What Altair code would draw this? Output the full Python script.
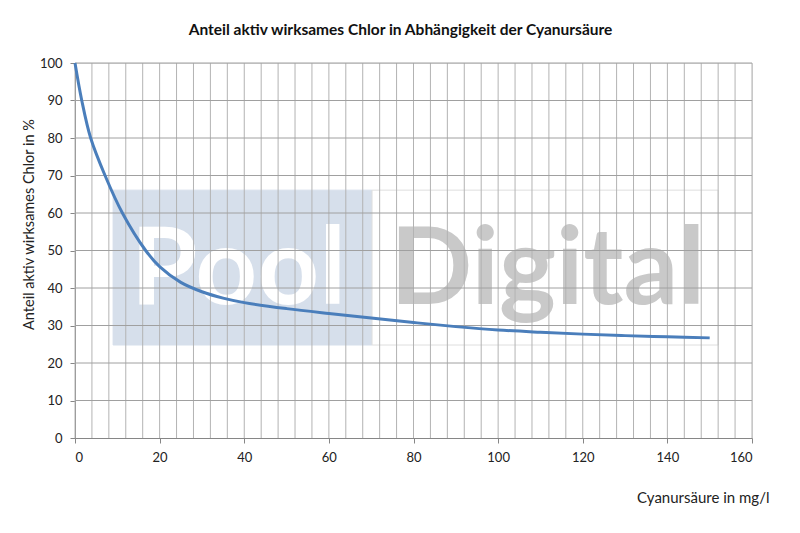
import altair as alt
import pandas as pd

# Curve data
cya = [0, 1.6, 3.7, 7.1, 11.2, 16.7, 20, 25, 30, 35, 40, 50, 60, 70, 80, 90, 100, 110, 120, 130, 140, 150]
chlor = [100, 90, 80, 70, 60, 50, 45.7, 41.5, 39.0, 37.3, 36.1, 34.5, 33.2, 32.0, 30.8, 29.7, 28.8, 28.2, 27.7, 27.3, 27.0, 26.7]

x_ticks = list(range(0, 161, 20))
y_ticks = list(range(0, 101, 10))
x_grid = list(range(0, 161, 4))
y_grid = list(range(10, 101, 10))

# watermark
wm_x = [9, 70.2]
wm_x2 = [70.2, 152]
wm_y = [24.8, 24.8]
wm_y2 = [66.1, 66.1]
wm_fill = ["#d6dfeb", "#ffffff"]
wm_stroke = ["#d6dfeb", "#dedede"]
wm_text = ["Pool", "Digital"]
wm_tx = [13.2, 74.5]
wm_ty = [35.7, 35.7]
wm_tcolor = ["#ffffff", "#c9c9c9"]

FONT = "Lato"

curve_df = pd.DataFrame({"x": cya, "y": chlor})
rect_df = pd.DataFrame({"x": wm_x, "x2": wm_x2, "y": wm_y, "y2": wm_y2, "fill": wm_fill, "stroke": wm_stroke})
text_df = pd.DataFrame({"t": wm_text, "x": wm_tx, "y": wm_ty, "c": wm_tcolor})
xg_df = pd.DataFrame({"x": x_grid})
yg_df = pd.DataFrame({"y": y_grid})

xs = alt.Scale(domain=[0, 160], nice=False, zero=False)
ys = alt.Scale(domain=[0, 100], nice=False, zero=False)

xaxis = alt.Axis(
    values=x_ticks, title="Cyanursäure in mg/l", grid=False,
    tickSize=5, tickColor="#868686", domainColor="#868686",
    labelFont=FONT, labelFontSize=13, labelColor="#222222", labelPadding=8,
    titleFont=FONT, titleFontSize=15, titleFontWeight="normal", titleColor="#222222",
    titleX=694, titleY=59, titleAlign="right", titleBaseline="middle",
)
yaxis = alt.Axis(
    values=y_ticks, title="Anteil aktiv wirksames Chlor in %", grid=False,
    tickSize=5, tickColor="#868686", domainColor="#868686",
    labelFont=FONT, labelFontSize=13, labelColor="#222222", labelPadding=8,
    titleFont=FONT, titleFontSize=14.5, titleFontWeight="normal", titleColor="#222222",
    titleX=-46, titleY=161, titleAlign="center", titleBaseline="middle", titleAngle=-90,
)

rects = alt.Chart(rect_df).mark_rect(strokeWidth=1).encode(
    x=alt.X("x:Q", scale=xs, axis=xaxis),
    x2="x2:Q",
    y=alt.Y("y:Q", scale=ys, axis=yaxis),
    y2="y2:Q",
    fill=alt.Fill("fill:N", scale=None),
    stroke=alt.Stroke("stroke:N", scale=None),
)

texts = alt.Chart(text_df).mark_text(
    font=FONT, fontSize=108, fontWeight="bold", align="left", baseline="alphabetic"
).encode(
    x=alt.X("x:Q", scale=xs, axis=xaxis),
    y=alt.Y("y:Q", scale=ys, axis=yaxis),
    text="t:N",
    color=alt.Color("c:N", scale=None),
)

vgrid = alt.Chart(xg_df).mark_rule(color="#b3b3b3", strokeWidth=1).encode(
    x=alt.X("x:Q", scale=xs, axis=xaxis),
    y=alt.value(0),
    y2=alt.value(375),
)

hgrid = alt.Chart(yg_df).mark_rule(color="#a0a0a0", strokeWidth=1).encode(
    y=alt.Y("y:Q", scale=ys, axis=yaxis),
    x=alt.value(0),
    x2=alt.value(677),
)

line = alt.Chart(curve_df).mark_line(
    color="#4a7ebb", strokeWidth=3, interpolate="catmull-rom"
).encode(
    x=alt.X("x:Q", scale=xs, axis=xaxis),
    y=alt.Y("y:Q", scale=ys, axis=yaxis),
)

chart = alt.layer(rects, texts, vgrid, hgrid, line).properties(
    width=677,
    height=375,
    autosize="none",
    padding={"left": 67, "top": 55, "right": 40, "bottom": 80},
    title=alt.TitleParams(
        "Anteil aktiv wirksames Chlor in Abhängigkeit der Cyanursäure",
        font=FONT, fontSize=15.5, fontWeight="bold", color="#111111",
        anchor="middle", dx=-13, offset=19,
    ),
).configure_view(stroke=None).configure(background="white")

chart.save("out.html", embed_options={"renderer": "svg", "actions": False})
